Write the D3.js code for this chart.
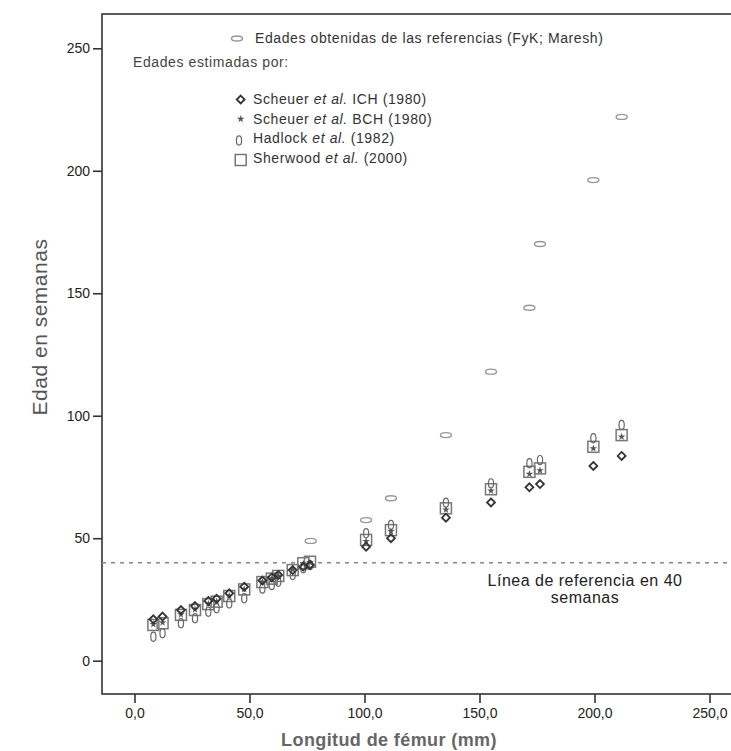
<!DOCTYPE html>
<html>
<head>
<meta charset="utf-8">
<script src="https://cdn.jsdelivr.net/npm/d3@7"></script>
<style>
  body { margin: 0; background: #fff; }
  svg { font-family: "Liberation Sans", Arial, sans-serif; }
</style>
</head>
<body>
<div id="chart"></div>
<script>
// femur length (mm) of each case and the estimated ages (weeks)
var femur    = [8.2, 12.2, 20.2, 26.3, 32.1, 35.7, 41.2, 47.7, 55.6, 59.7, 62.5, 68.8, 73.4, 76.3, 100.7, 111.5, 135.4, 155.0, 171.7, 176.3, 199.5, 211.8];
var ich      = [16.9, 18.0, 20.7, 22.3, 24.4, 25.3, 27.5, 30.2, 32.7, 34.0, 35.0, 37.0, 38.4, 39.1, 46.5, 50.0, 58.4, 64.6, 70.8, 72.1, 79.5, 83.6];
var bch      = [14.9, 15.6, 18.9, 20.9, 23.2, 24.2, 26.5, 29.2, 32.2, 33.6, 34.7, 37.2, 39.6, 40.1, 48.8, 52.8, 61.6, 69.4, 76.2, 77.6, 86.6, 91.4];
var hadlock  = [9.8, 11.2, 15.3, 17.3, 20.0, 21.4, 23.4, 25.5, 29.5, 30.9, 32.2, 35.0, 37.7, 39.0, 52.0, 55.4, 64.5, 72.4, 80.6, 81.9, 90.8, 96.2];
var sherwood = [14.6, 15.3, 18.7, 20.7, 23.1, 24.1, 26.4, 29.1, 32.1, 33.5, 34.6, 37.0, 39.8, 40.4, 49.3, 53.3, 62.2, 70.0, 77.1, 78.5, 87.3, 92.1];

// ages taken from the references (FyK; Maresh)
var refFemur = [76.6, 100.7, 111.5, 135.4, 155.0, 171.7, 176.3, 199.5, 211.8];
var refAge   = [48.9, 57.4, 66.3, 92.1, 118.0, 144.1, 170.1, 196.2, 222.0];

var xTicks = [0, 50, 100, 150, 200, 250];
var yTicks = [0, 50, 100, 150, 200, 250];
var refLine = 40;

var width = 731, height = 751;

var svg = d3.select("#chart").append("svg")
    .attr("width", width)
    .attr("height", height);

var x = d3.scaleLinear().domain([0, 250]).range([134.5, 709.5]);
var y = d3.scaleLinear().domain([0, 250]).range([660.7, 48.3]);

// plot frame
svg.append("rect")
    .attr("x", 102).attr("y", 14)
    .attr("width", 640).attr("height", 680)
    .attr("fill", "none")
    .attr("stroke", "#333")
    .attr("stroke-width", 1.6);

var fmtX = function(d) { return d.toFixed(1).replace(".", ","); };

var gX = svg.append("g")
    .attr("transform", "translate(0,694)")
    .call(d3.axisBottom(x).tickValues(xTicks).tickFormat(fmtX).tickSize(9).tickPadding(5));
var gY = svg.append("g")
    .attr("transform", "translate(102,0)")
    .call(d3.axisLeft(y).tickValues(yTicks).tickFormat(d3.format("d")).tickSize(9).tickPadding(3));

[gX, gY].forEach(function(g) {
    g.select(".domain").remove();
    g.selectAll(".tick line").attr("stroke", "#333").attr("stroke-width", 1.6);
    g.selectAll(".tick text").attr("fill", "#222").style("font-size", "14px");
});

// axis titles
svg.append("text")
    .attr("x", 389).attr("y", 746)
    .attr("text-anchor", "middle")
    .attr("fill", "#666")
    .style("font-size", "18px")
    .style("font-weight", "bold")
    .style("letter-spacing", "0.4px")
    .text("Longitud de fémur (mm)");

svg.append("text")
    .attr("transform", "translate(47,327) rotate(-90)")
    .attr("text-anchor", "middle")
    .attr("fill", "#555")
    .style("font-size", "21px")
    .style("letter-spacing", "0.5px")
    .text("Edad en semanas");

// reference line at 40 weeks
svg.append("line")
    .attr("x1", 102).attr("x2", 731)
    .attr("y1", y(refLine)).attr("y2", y(refLine))
    .attr("stroke", "#888")
    .attr("stroke-width", 1.5)
    .attr("stroke-dasharray", "4,5");

var refText = svg.append("text")
    .attr("text-anchor", "middle")
    .attr("fill", "#222")
    .style("font-size", "16px")
    .style("letter-spacing", "0.5px");
refText.append("tspan").attr("x", 585).attr("y", 586).text("Línea de referencia en 40");
refText.append("tspan").attr("x", 585).attr("y", 603).text("semanas");

// marker shapes
var diamond = d3.symbol().type(d3.symbolDiamond2).size(40);
var star = d3.symbol().type(d3.symbolStar).size(18);

function drawSquares(g, xs, ys) {
    g.selectAll(null).data(xs).enter().append("rect")
        .attr("x", function(d) { return x(d) - 5.5; })
        .attr("y", function(d, i) { return y(ys[i]) - 5.5; })
        .attr("width", 11).attr("height", 11)
        .attr("fill", "none")
        .attr("stroke", "#777")
        .attr("stroke-width", 1.5);
}
function drawHadlock(g, xs, ys) {
    g.selectAll(null).data(xs).enter().append("ellipse")
        .attr("cx", function(d) { return x(d); })
        .attr("cy", function(d, i) { return y(ys[i]); })
        .attr("rx", 2.6).attr("ry", 4.6)
        .attr("fill", "none")
        .attr("stroke", "#666")
        .attr("stroke-width", 1.2);
}
function drawStars(g, xs, ys) {
    g.selectAll(null).data(xs).enter().append("path")
        .attr("d", star)
        .attr("transform", function(d, i) { return "translate(" + x(d) + "," + y(ys[i]) + ")"; })
        .attr("fill", "#555");
}
function drawDiamonds(g, xs, ys) {
    g.selectAll(null).data(xs).enter().append("path")
        .attr("d", diamond)
        .attr("transform", function(d, i) { return "translate(" + x(d) + "," + y(ys[i]) + ")"; })
        .attr("fill", "none")
        .attr("stroke", "#333")
        .attr("stroke-width", 1.8);
}
function drawRef(g, xs, ys) {
    g.selectAll(null).data(xs).enter().append("ellipse")
        .attr("cx", function(d) { return x(d); })
        .attr("cy", function(d, i) { return y(ys[i]); })
        .attr("rx", 5.5).attr("ry", 2.5)
        .attr("fill", "none")
        .attr("stroke", "#999")
        .attr("stroke-width", 1.4);
}

var pts = svg.append("g");
drawSquares(pts, femur, sherwood);
drawHadlock(pts, femur, hadlock);
drawStars(pts, femur, bch);
drawDiamonds(pts, femur, ich);
drawRef(pts, refFemur, refAge);

// legend
var leg = svg.append("g").style("font-size", "14px").style("letter-spacing", "0.6px");
drawRef(leg, [x.invert(237)], [y.invert(38.5)]);
leg.append("text").attr("x", 255).attr("y", 43).attr("fill", "#333")
    .text("Edades obtenidas de las referencias (FyK; Maresh)");
leg.append("text").attr("x", 133).attr("y", 67).attr("fill", "#444")
    .text("Edades estimadas por:");

var legItems = [
    { pre: "Scheuer ", it: "et al.", post: " ICH (1980)" },
    { pre: "Scheuer ", it: "et al.", post: " BCH (1980)" },
    { pre: "Hadlock ", it: "et al.", post: " (1982)" },
    { pre: "Sherwood ", it: "et al.", post: " (2000)" }
];
var legY = [99.5, 119, 138.5, 158];
drawDiamonds(leg, [x.invert(240.7)], [y.invert(legY[0])]);
drawStars(leg, [x.invert(240.7)], [y.invert(legY[1])]);
drawHadlock(leg, [x.invert(239)], [y.invert(legY[2] + 2)]);
drawSquares(leg, [x.invert(240.7)], [y.invert(legY[3] + 2)]);

legItems.forEach(function(d, i) {
    var t = leg.append("text").attr("x", 253).attr("y", legY[i] + 4.5).attr("fill", "#333");
    t.append("tspan").text(d.pre);
    t.append("tspan").style("font-style", "italic").text(d.it);
    t.append("tspan").text(d.post);
});
</script>
</body>
</html>
